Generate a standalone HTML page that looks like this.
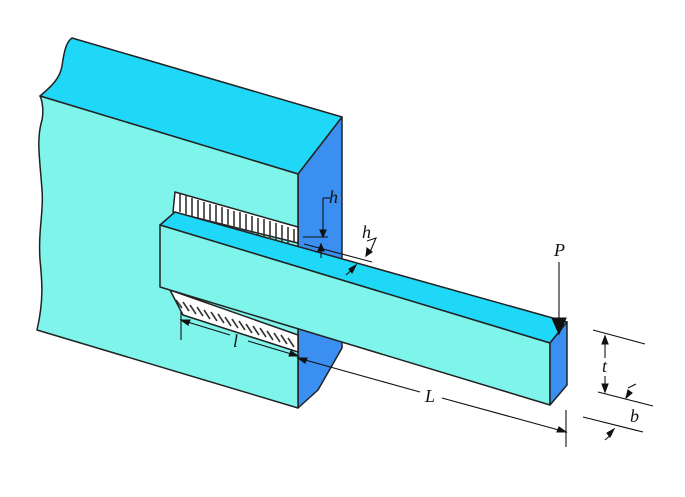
<!DOCTYPE html>
<html><head><style>body{margin:0;background:#fff}svg{display:block}</style></head><body>
<svg width="685" height="497" viewBox="0 0 685 497" xmlns="http://www.w3.org/2000/svg" font-family="Liberation Serif, serif" font-style="italic">
<g stroke="#222" stroke-width="1.5" stroke-linejoin="round">
<polygon points="298,174 342,117 342,348 318,390 298,408" fill="#3a8ff0"/>
<path d="M72,38 L342,117 L298,174 L40,96 C52,86 60,78 62,66 C64,52 66,42 72,38Z" fill="#1fd8f8"/>
<path d="M40,96 L298,174 L298,408 L37,330 C44,300 42,280 40,260 C38,230 44,210 42,190 C40,160 36,140 42,120 C44,110 42,100 40,96Z" fill="#7ef4ea"/>
<polygon points="175,192 298,227 298,243 173,212" fill="#fff"/>
<polygon points="170,290 298,335 298,352 183,315" fill="#fff"/>
<polygon points="160,225 175,212 567,322 550,343" fill="#1fd8f8"/>
<polygon points="160,225 550,343 550,405 160,287" fill="#7ef4ea"/>
<polygon points="550,343 567,322 567,385 550,405" fill="#3a8ff0"/>
</g>
<g stroke="#333" stroke-width="1.6">
<path d="M180,194 v18 M186,196 v18 M192,198 v18 M198,200 v18 M204,202 v18 M210,204 v18 M216,205 v18 M222,207 v18 M228,209 v18 M234,211 v18 M240,212 v18 M246,214 v18 M252,216 v18 M258,218 v18 M264,219 v18 M270,221 v18 M276,223 v18 M282,225 v18 M288,227 v16 M294,229 v14"/>
<path d="M176,300 l6,8 M183,302 l6,9 M190,305 l6,9 M197,307 l6,9 M204,310 l6,9 M211,312 l6,9 M218,314 l6,9 M225,317 l6,9 M232,319 l6,9 M239,321 l6,9 M246,324 l6,9 M253,326 l6,9 M260,328 l6,9 M267,331 l6,9 M274,333 l6,9 M281,335 l6,9 M288,338 l6,9"/>
</g>
<g stroke="#111" stroke-width="1.1" fill="#111">
<line x1="181" y1="312" x2="181" y2="340"/>
<line x1="181" y1="320" x2="230" y2="335"/><line x1="248" y1="341" x2="298" y2="356"/>
<polygon points="181,320 190,320 188,325"/><polygon points="298,356 289,356 291,351"/>
<line x1="298" y1="358" x2="420" y2="392"/><line x1="442" y1="398" x2="566" y2="432"/>
<polygon points="298,358 307,358 305,363"/><polygon points="566,432 557,432 559,427"/>
<line x1="566" y1="410" x2="566" y2="447"/>
<line x1="559" y1="262" x2="559" y2="320"/>
<polygon points="552,318 566,318 559,334"/>
<line x1="593" y1="330" x2="645" y2="344"/>
<line x1="598" y1="392" x2="653" y2="406"/>
<line x1="583" y1="417" x2="643" y2="432"/>
<line x1="605" y1="340" x2="605" y2="358"/><line x1="605" y1="376" x2="605" y2="390"/>
<polygon points="605,336 602,344 608,344"/><polygon points="605,392 602,384 608,384"/>
<line x1="628" y1="388" x2="636" y2="384"/><polygon points="626,398 628,390 632,393"/>
<line x1="605" y1="440" x2="612" y2="434"/><polygon points="614,429 610,437 607,433"/>
<line x1="323" y1="198" x2="330" y2="198" fill="none"/>
<line x1="323" y1="198" x2="323" y2="234"/>
<polygon points="323,237 320,230 326,230"/>
<line x1="303" y1="237" x2="328" y2="237"/>
<line x1="304" y1="244" x2="372" y2="262"/>
<line x1="321" y1="245" x2="321" y2="258"/>
<polygon points="321,244 318,251 324,251"/>
<path d="M367,241 L376,238 L370,252" fill="none"/>
<polygon points="366,256 367,248 372,252"/>
<line x1="346" y1="275" x2="354" y2="268"/>
<polygon points="356,265 352,273 349,269"/>
</g>
<g font-size="18" fill="#111">
<text x="329" y="203">h</text>
<text x="362" y="238">h</text>
<text x="233" y="347">l</text>
<text x="425" y="402">L</text>
<text x="554" y="256">P</text>
<text x="602" y="372">t</text>
<text x="630" y="422">b</text>
</g>
</svg>
</body></html>
